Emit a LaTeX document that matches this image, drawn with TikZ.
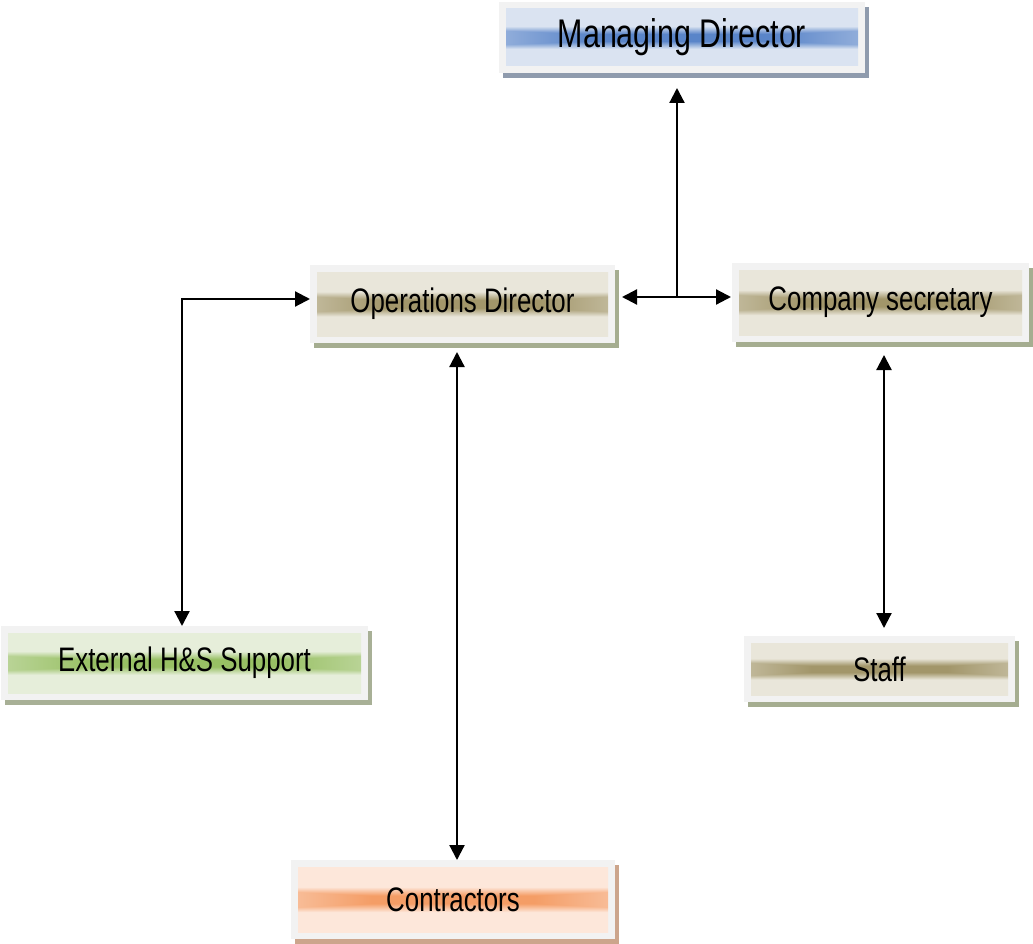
\documentclass[tikz,border=0pt]{standalone}
\usepackage{fontspec}
\setmainfont{Liberation Sans}[FakeStretch=0.76]
\usetikzlibrary{shadows,arrows.meta}

\definecolor{framegray}{HTML}{F2F2F2}
\definecolor{mdin}{HTML}{5A85C9}
\definecolor{mdout}{HTML}{DAE3F1}
\definecolor{mdshade}{HTML}{8F9BAD}
\definecolor{opsin}{HTML}{A2966A}
\definecolor{opsout}{HTML}{E9E6DA}
\definecolor{opsshade}{HTML}{A5AD90}
\definecolor{extin}{HTML}{98C064}
\definecolor{extout}{HTML}{E6EEDA}
\definecolor{extshade}{HTML}{A8B096}
\definecolor{conin}{HTML}{F49D66}
\definecolor{conout}{HTML}{FDE7DA}
\definecolor{conshade}{HTML}{CCA58C}

% rectangular glow: colour goes with max(|x|,5|y|), flat core in the middle
\pgfdeclarefunctionalshading[boxin,boxout]{boxglow}{\pgfpoint{-50bp}{-50bp}}{\pgfpoint{50bp}{50bp}}{%
  \pgfshadecolortorgb{boxin}{\bin}\pgfshadecolortorgb{boxout}{\bout}}{%
  abs 5 mul exch abs 2 copy lt {exch} if pop 50 div
  0.25 sub 0.55 div dup 0 lt {pop 0} if dup 1 gt {pop 1} if
  dup
  \boutgreen\space \bingreen\space sub mul \bingreen\space add exch
  dup
  \boutblue\space \binblue\space sub mul \binblue\space add exch
  \boutred\space \binred\space sub mul \binred\space add
  3 1 roll}

\tikzset{
  orgbox/.style n args={3}{rectangle, inner sep=0pt, outer sep=0pt,
    fill=framegray,
    drop shadow={shadow xshift=4pt, shadow yshift=-5pt, fill=#3, opacity=1},
    path picture={\colorlet{boxin}{#1}\colorlet{boxout}{#2}
      \shade[shading=boxglow]
        ([shift={(7pt,7pt)}]path picture bounding box.south west) rectangle
        ([shift={(-7pt,-7pt)}]path picture bounding box.north east);},
    font=\fontsize{34}{40}\selectfont},
  link/.style={line width=2.2pt,
    {Triangle[length=15pt,width=15pt]}-{Triangle[length=15pt,width=15pt]}},
  uplink/.style={line width=2.2pt, -{Triangle[length=15pt,width=15pt]}}
}

\begin{document}
\begin{tikzpicture}[x=1pt,y=-1pt]
    \useasboundingbox (0,0) rectangle (1033,944);

    \node[orgbox={mdin}{mdout}{mdshade}, minimum width=366pt, minimum height=71pt,
          font=\fontsize{40}{46}\selectfont] (md) at (682,37.5) {Managing Director};
    \node[orgbox={opsin}{opsout}{opsshade}, minimum width=305pt, minimum height=78pt]
          (ops) at (462.5,304) {Operations Director};
    \node[orgbox={opsin}{opsout}{opsshade}, minimum width=297pt, minimum height=79pt]
          (cs) at (880.5,302.5) {Company secretary};
    \node[orgbox={extin}{extout}{extshade}, minimum width=367pt, minimum height=74pt]
          (ext) at (184.5,663) {External H\&S Support};
    \node[orgbox={opsin}{opsout}{opsshade}, minimum width=271pt, minimum height=66pt]
          (staff) at (879.5,669) {Staff};
    \node[orgbox={conin}{conout}{conshade}, minimum width=324pt, minimum height=79pt]
          (con) at (453,899.5) {Contractors};

    \coordinate (junc) at (677,297);

    \draw[uplink, shorten >=15pt] (junc) -- (junc |- md.south);
    \draw[link, shorten <=7pt, shorten >=1pt] (ops.east |- junc) -- (cs.west |- junc);
    \draw[link] (ext.north -| 182,0) -- ([yshift=5pt]ops.west -| 182,0) -- ([yshift=5pt]ops.west);
    \draw[link, shorten <=9pt] ([xshift=-5.5pt]ops.south) -- ([xshift=-5.5pt]ops.south |- con.north);
    \draw[link, shorten <=13pt, shorten >=8pt] ([xshift=3.5pt]cs.south) -- ([xshift=3.5pt]cs.south |- staff.north);
\end{tikzpicture}
\end{document}
